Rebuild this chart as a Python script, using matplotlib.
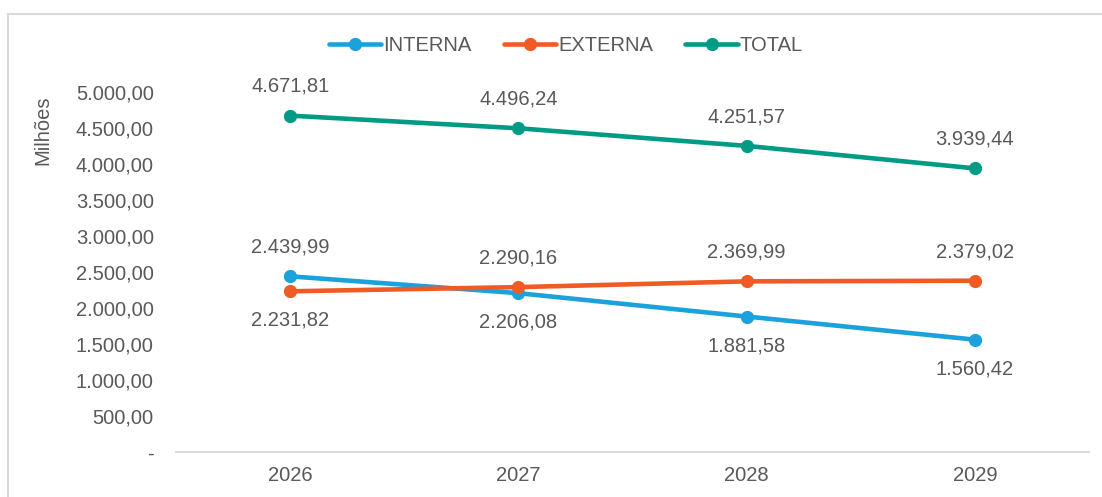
import matplotlib.pyplot as plt
from matplotlib.lines import Line2D

anos = ['2026', '2027', '2028', '2029']
interna = [2439.99, 2206.08, 1881.58, 1560.42]
externa = [2231.82, 2290.16, 2369.99, 2379.02]
total = [4671.81, 4496.24, 4251.57, 3939.44]

# posicao do rotulo: 1 acima, -1 abaixo
pos_interna = [1, -1, -1, -1]
pos_externa = [-1, 1, 1, 1]
pos_total = [1, 1, 1, 1]

yticks = [0, 500, 1000, 1500, 2000, 2500, 3000, 3500, 4000, 4500, 5000]

cinza = '#595959'
plt.rcParams['font.family'] = ['Liberation Sans', 'DejaVu Sans']
plt.rcParams['font.size'] = 14.5


def fmt_br(v):
    if v == 0:
        return '-'
    s = f'{v:,.2f}'
    return s.replace(',', 'X').replace('.', ',').replace('X', '.')


fig = plt.figure(figsize=(11.02, 4.97), dpi=100)
ax = fig.add_axes([176 / 1102, 1 - 452 / 497, (1089 - 176) / 1102, (452 - 92) / 497])

# moldura (so topo e esquerda aparecem)
bx = 7.5 / 1102
by = 1 - 13.5 / 497
fig.add_artist(Line2D([bx, 1.0], [by, by], transform=fig.transFigure,
                      color='#d9d9d9', linewidth=1.5))
fig.add_artist(Line2D([bx, bx], [0, by], transform=fig.transFigure,
                      color='#d9d9d9', linewidth=1.5))

x = list(range(len(anos)))
series = [('INTERNA', interna, pos_interna, '#1BA1DB'),
          ('EXTERNA', externa, pos_externa, '#F05A24'),
          ('TOTAL', total, pos_total, '#009B84')]

for nome, vals, pos, cor in series:
    ax.plot(x, vals, color=cor, linewidth=3.3, marker='o', markersize=8.5,
            solid_capstyle='round', label=nome)
    for xi, v, p in zip(x, vals, pos):
        ax.annotate(fmt_br(v), (xi, v), xytext=(0, 21 * p), textcoords='offset points',
                    ha='center', va='center', color=cinza)

ax.set_xlim(-0.5, len(anos) - 0.5)
ax.set_ylim(0, 5000)
ax.set_xticks(x)
ax.set_xticklabels(anos)
ax.set_yticks(yticks)
ax.set_yticklabels([fmt_br(v) for v in yticks])
ax.tick_params(axis='both', length=0, colors=cinza)
ax.tick_params(axis='y', pad=16)
ax.tick_params(axis='x', pad=10)
for s in ['top', 'right', 'left']:
    ax.spines[s].set_visible(False)
ax.spines['bottom'].set_color('#d9d9d9')
ax.spines['bottom'].set_linewidth(1.5)

fig.text(43 / 1102, 1 - 130 / 497, 'Milhões', rotation=90, ha='center', va='center',
         color=cinza)

fig.legend(loc='center', bbox_to_anchor=(566 / 1102, 1 - 46 / 497), ncol=3,
           frameon=False, handlelength=2.6, handletextpad=0.1, columnspacing=1.6,
           labelcolor=cinza)

fig.savefig('out.png', dpi=100)
